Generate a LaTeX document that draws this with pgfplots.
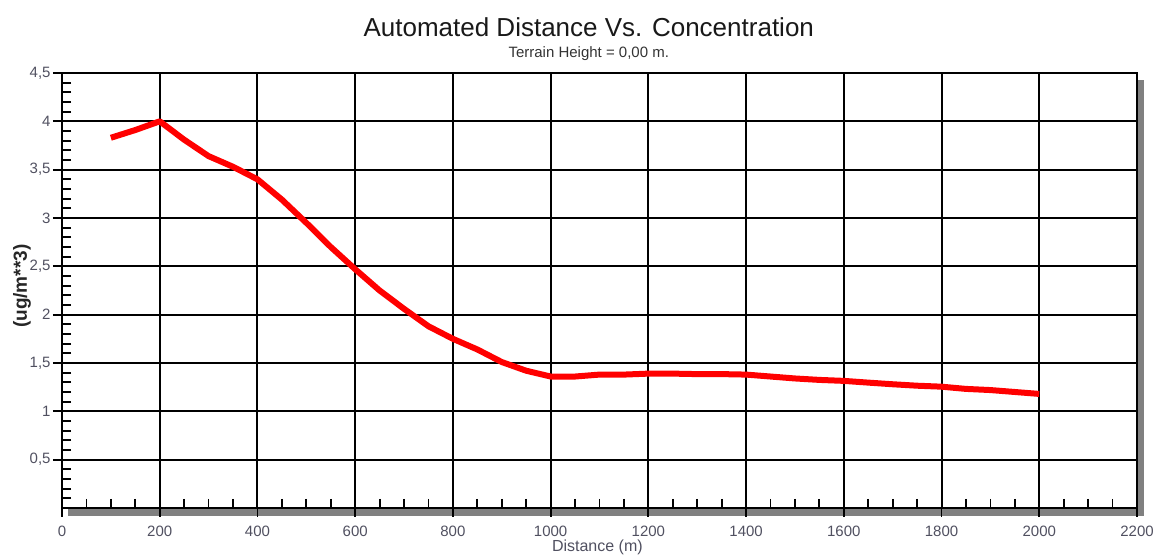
\documentclass[border=0pt]{standalone}
\usepackage{fontspec}
\setmainfont{Liberation Sans}
\usepackage{pgfplots}
\pgfplotsset{compat=1.18}
\definecolor{ticklab}{RGB}{80,80,96}
\definecolor{shadow}{RGB}{128,128,128}
\begin{document}
\begin{tikzpicture}
\path[use as bounding box] (0,0) rectangle (576.5pt,277.5pt);
% drop shadow of the plot frame
\fill[shadow] (34pt,19.5pt) rectangle (572pt,23.5pt);
\fill[shadow] (568.5pt,19.5pt) rectangle (572pt,237.5pt);
\begin{axis}[
  scale only axis,
  width=537.5pt, height=217.5pt,
  at={(31pt,23.5pt)}, anchor=south west,
  xmin=0, xmax=2200, ymin=0, ymax=4.5,
  xtick={0,200,...,2200},
  xticklabels={0,200,400,600,800,1000,1200,1400,1600,1800,2000,2200},
  ytick={0.5,1,1.5,2,2.5,3,3.5,4,4.5},
  yticklabels={{0,5},1,{1,5},2,{2,5},3,{3,5},4,{4,5}},
  minor xtick={50,100,150,250,300,350,450,500,550,650,700,750,850,900,950,1050,1100,1150,1250,1300,1350,1450,1500,1550,1650,1700,1750,1850,1900,1950,2050,2100,2150},
  minor ytick={0.1,0.2,0.3,0.4,0.6,0.7,0.8,0.9,1.1,1.2,1.3,1.4,1.6,1.7,1.8,1.9,2.1,2.2,2.3,2.4,2.6,2.7,2.8,2.9,3.1,3.2,3.3,3.4,3.6,3.7,3.8,3.9,4.1,4.2,4.3,4.4},
  xtick pos=bottom, ytick pos=left,
  tick align=outside,
  major tick length=4.5pt,
  minor tick length=-4.5pt,
  tick style={black, line width=0.9pt},
  grid=major,
  major grid style={black, line width=1pt},
  axis line style={black, line width=1.2pt},
  /pgf/number format/assume math mode=true,
  ticklabel style={font=\fontsize{7.5}{8.5}\selectfont, text=ticklab},
  xticklabel style={yshift=-1pt},
  yticklabel style={xshift=2.3pt},
  xlabel={Distance (m)},
  xlabel style={font=\fontsize{8}{9}\selectfont, text=ticklab, at={(rel axis cs:0.498,0)}, anchor=base, yshift=-21.6pt},
  ylabel={(ug/m**3)},
  ylabel style={font=\bfseries\fontsize{9.5}{10.5}\selectfont, text=black!85, at={(rel axis cs:0,0.51)}, anchor=center, yshift=20pt},
  clip=false,
]
\node[anchor=base, font=\fontsize{13}{15}\selectfont, text=black!90] at (rel axis cs:0.49,1) [yshift=18pt] {Automated Distance Vs. Concentration};
\node[anchor=base, font=\fontsize{7.5}{9}\selectfont, text=black!80] at (rel axis cs:0.49,1) [yshift=7.5pt] {Terrain Height = 0,00 m.};
\addplot[red, line width=3pt, line join=round] coordinates {
(100,3.83) (150,3.91) (200,4.00) (250,3.81) (300,3.64) (350,3.53) (400,3.40)
(450,3.19) (500,2.95) (550,2.70) (600,2.47) (650,2.25) (700,2.06) (750,1.88)
(800,1.75) (850,1.64) (900,1.51) (950,1.42) (1000,1.36) (1050,1.36) (1100,1.38)
(1150,1.38) (1200,1.39) (1250,1.39) (1300,1.385) (1350,1.385) (1400,1.38)
(1450,1.36) (1500,1.34) (1550,1.325) (1600,1.315) (1650,1.297) (1700,1.28)
(1750,1.265) (1800,1.255) (1850,1.232) (1900,1.22) (1950,1.20) (2000,1.18)
};
\end{axis}
\end{tikzpicture}
\end{document}
